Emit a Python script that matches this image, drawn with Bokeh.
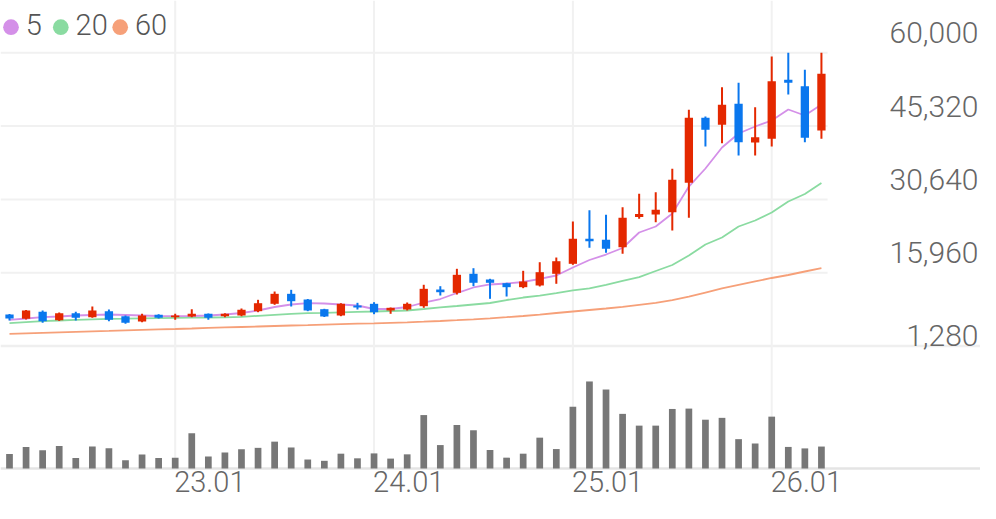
import pandas as pd
from bokeh.plotting import figure
from bokeh.models import Range1d, ColumnDataSource, Span
from bokeh.core.properties import value
from bokeh.embed import file_html
from bokeh.resources import INLINE

# ---------------- data ----------------
months = pd.period_range("2022-03", periods=50, freq="M")

opens = [7590, 6730, 8130, 6450, 7850, 7050, 8250, 7250, 6190, 7530,
         7050, 7190, 7730, 7250, 7390, 8250, 9730, 11730, 10590, 8650,
         7390, 9390, 9730, 8390, 8590, 9250, 12590, 11930, 15740, 14600,
         13860, 13060, 13400, 15740, 17740, 22750, 22550, 21070, 27110, 27620,
         28080, 33960, 46980, 45580, 49790, 42040, 42780, 54590, 53310, 44440]
highs = [7690, 8490, 8390, 7990, 8130, 9190, 8590, 7390, 7730, 7630,
         7730, 8650, 7790, 7850, 8790, 10530, 12190, 12530, 10690, 8730,
         9850, 9930, 10050, 8990, 9990, 13540, 13260, 16740, 16860, 14740,
         13940, 16340, 18060, 19000, 26210, 28480, 27560, 29080, 31760, 32080,
         36770, 48580, 47240, 53110, 53990, 49100, 59260, 60000, 56590, 60000]
lows = [6390, 6590, 5930, 6290, 6390, 6930, 6250, 5730, 6050, 6790,
        6530, 7050, 6530, 7050, 7250, 8050, 9530, 9190, 8250, 7090,
        7250, 8590, 7650, 7730, 8390, 8930, 11390, 11590, 13260, 10730,
        11190, 12860, 13200, 13740, 17540, 20950, 19950, 19740, 26750, 26070,
        24410, 26950, 41230, 41890, 39430, 39430, 41230, 51650, 42100, 42780]
closes = [6790, 8390, 6250, 7850, 6930, 8390, 6530, 5930, 7390, 6930,
          7390, 7730, 6930, 7730, 8530, 9850, 11730, 10250, 8390, 7190,
          9730, 8990, 8050, 8930, 9730, 12730, 12050, 15540, 13940, 13940,
          13060, 14200, 16060, 18260, 22750, 22270, 20750, 26950, 27720, 28560,
          34570, 46980, 44580, 49590, 42100, 43100, 54310, 53990, 42980, 55790]

ma5 = [6530, 6790, 7050, 7190, 7390, 7490, 7590, 7490, 7390, 7290,
       7250, 7290, 7390, 7590, 7890, 8390, 9090, 9590, 9850, 9790,
       9590, 9390, 8690, 8690, 9090, 9990, 10690, 11890, 13000, 13600,
       13800, 14100, 14700, 15400, 17000, 18500, 19600, 20910, 24010, 25210,
       27820, 33220, 36830, 41030, 43840, 45240, 46440, 48640, 47440, 49650]
ma20 = [5850, 6050, 6250, 6390, 6530, 6630, 6710, 6750, 6830, 6870,
        6910, 6950, 6990, 7030, 7130, 7330, 7530, 7730, 7870, 7930,
        8030, 8110, 8190, 8290, 8390, 8690, 9030, 9290, 9590, 9890,
        10490, 10990, 11390, 11890, 12400, 12800, 13540, 14300, 15060, 16300,
        17500, 19400, 21610, 23010, 25210, 26410, 28020, 30220, 31720, 33920]
ma60 = [3720, 3820, 3920, 4020, 4120, 4220, 4300, 4400, 4500, 4600,
        4680, 4780, 4890, 4990, 5090, 5190, 5290, 5390, 5470, 5570,
        5670, 5750, 5830, 5930, 6030, 6150, 6290, 6450, 6630, 6830,
        7050, 7290, 7550, 7890, 8190, 8490, 8790, 9130, 9530, 9930,
        10490, 11190, 11990, 12800, 13500, 14200, 14900, 15500, 16200, 16860]

volume = [157, 233, 197, 243, 113, 237, 220, 90, 150, 113,
          117, 380, 130, 173, 207, 223, 290, 227, 97, 83,
          160, 110, 163, 107, 153, 577, 253, 470, 413, 200,
          117, 160, 333, 210, 667, 940, 853, 590, 463, 463,
          643, 647, 527, 547, 317, 270, 560, 233, 217, 237]

price_ticks = [1280, 15960, 30640, 45320, 60000]
ma_labels = ["5", "20", "60"]
ma_colors = ["#D490E8", "#8ADBA1", "#F6A079"]
up_color, down_color = "#E42800", "#0A77EE"

# ---------------- layout (figure pixels) ----------------
W, H = 980, 503
FONT = value("Roboto Light")

first_x, step = 9.0, 16.57               # centre of first candle, candle pitch
x_start = -first_x / step
x_end = x_start + W / step

top_px, bot_px = 52.3, 345.5             # rows of the top / bottom price ticks
ppp = (price_ticks[-1] - price_ticks[0]) / (bot_px - top_px)
y_end = price_ticks[-1] + top_px * ppp
y_start = price_ticks[0] - (H - bot_px) * ppp

base_px = 468.0                          # volume baseline row
vpp = 10.8
v_start = -(H - base_px) * vpp
v_end = base_px * vpp


def px_x(px):
    return x_start + px / step


def px_y(py):
    return y_end - py * ppp


p = figure(width=W, height=H, output_backend="svg", toolbar_location=None,
           x_range=Range1d(x_start, x_end), y_range=Range1d(y_start, y_end),
           x_axis_location=None, y_axis_location=None, min_border=0,
           outline_line_color=None, background_fill_color="white")
p.extra_y_ranges = {"vol": Range1d(v_start, v_end)}
p.xgrid.visible = False
p.ygrid.visible = False

n = len(closes)
xs = list(range(n))
year_idx = [i for i, m in enumerate(months) if m.month == 1]
year_lbl = [months[i].strftime("%y.%m") for i in year_idx]

# grid lines
p.add_layout(Span(location=price_ticks[0], dimension="width", line_color="#EFEFEF",
                  line_width=2.5, level="underlay"))
p.add_layout(Span(location=0, dimension="width", y_range_name="vol",
                  line_color="#E4E4E4", line_width=2.5, level="underlay"))
p.segment(x0=year_idx, x1=year_idx, y0=[0] * len(year_idx), y1=[v_end] * len(year_idx),
          y_range_name="vol", line_color="#F1F1F1", line_width=2)
gt = price_ticks[1:]
p.segment(x0=[x_start] * len(gt), x1=[n - 1 + 0.37] * len(gt), y0=gt, y1=gt,
          line_color="#F1F1F1", line_width=2)

# moving averages
for ma, c in zip([ma60, ma20, ma5], ma_colors[::-1]):
    p.line(xs, ma, line_color=c, line_width=1.8)

# candles
colors = [up_color if c >= o else down_color for o, c in zip(opens, closes)]
src = ColumnDataSource(dict(x=xs, o=opens, h=highs, l=lows, c=closes, col=colors,
                            top=[max(o, c) for o, c in zip(opens, closes)],
                            bot=[min(o, c) for o, c in zip(opens, closes)],
                            vol=volume))
p.segment(x0="x", x1="x", y0="l", y1="h", line_color="col", line_width=2, source=src)
p.vbar(x="x", width=0.5, top="top", bottom="bot", fill_color="col", line_color=None, source=src)

# volume
p.vbar(x="x", width=0.405, top="vol", bottom=0, y_range_name="vol",
       fill_color="#777777", line_color=None, source=src)

# price labels (right, inside) -- vertical centres above their grid line
lbl_off = [-11.0] + [-20.1] * (len(price_ticks) - 1)
p.text(x=[x_end] * len(price_ticks), y=price_ticks, text=[f"{t:,}" for t in price_ticks],
       x_offset=-2, y_offset=lbl_off, text_align="right",
       text_baseline="middle", text_font=FONT, text_font_size="30px", text_color="#666666")

# x labels
p.text(x=year_idx, y=[0] * len(year_idx), y_range_name="vol", text=year_lbl,
       x_offset=-1, y_offset=13, text_align="left", text_baseline="middle",
       text_font=FONT, text_font_size="29px", text_color="#666666")

# legend
cx_px = [10.5, 60.3, 119.7]
p.scatter(x=[px_x(v) for v in cx_px], y=[px_y(26.7)] * 3, marker="circle",
          size=15.7, fill_color=ma_colors, line_color=None)
p.text(x=[px_x(v + 14.8) for v in cx_px], y=[px_y(24.4)] * 3, text=ma_labels,
       text_align="left", text_baseline="middle", text_font=FONT,
       text_font_size="29px", text_color="#555555")

open("out.html", "w").write(file_html(p, INLINE))
